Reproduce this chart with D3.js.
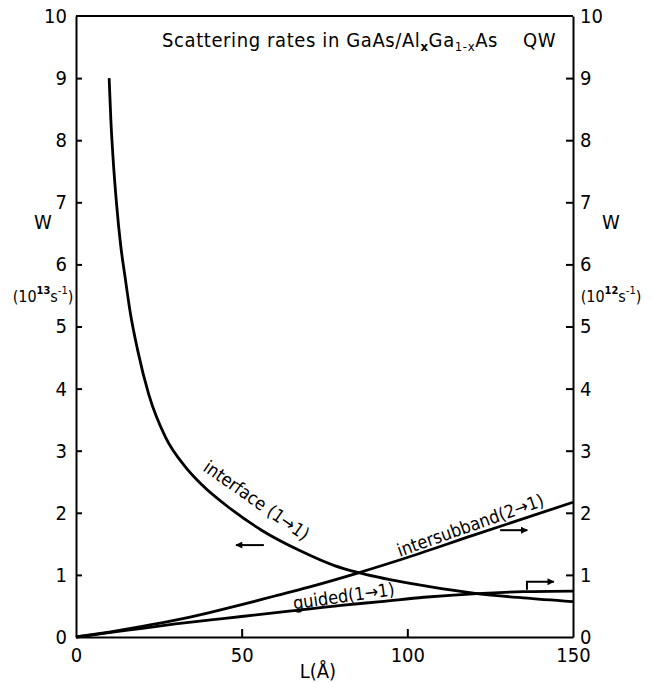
<!DOCTYPE html>
<html lang="en">
<head>
<meta charset="UTF-8">
<title>Scattering rates</title>
<script src="https://cdn.jsdelivr.net/npm/d3@7"></script>
<style>
  body { margin: 0; background: #fff; }
  svg { display: block; }
  text { font-family: "DejaVu Sans Condensed", "Liberation Sans", sans-serif; fill: #000; }
  .axis path, .axis line { stroke: #000; stroke-width: 2px; }
  .axis text { font-size: 20px; font-family: "DejaVu Sans Condensed", "Liberation Sans", sans-serif; }
  .curve { fill: none; stroke: #000; stroke-width: 2.8px; }
</style>
</head>
<body>
<svg id="chart" width="653" height="683"></svg>
<script>
// interface (1->1), left axis, 10^13 s^-1
var interfaceL = [10, 10.5, 11.2, 12.2, 13.5, 14.8, 16.3, 18.6, 22, 27, 33, 38, 47, 56, 68, 78, 85, 100, 121, 135, 150];
var interfaceW = [9.0, 8.35, 7.7, 7.0, 6.3, 5.8, 5.25, 4.62, 3.9, 3.22, 2.74, 2.45, 2.05, 1.72, 1.38, 1.15, 1.04, 0.87, 0.70, 0.63, 0.57];
// intersubband (2->1), right axis, 10^12 s^-1
var interL = [0, 10, 20, 30, 40, 50, 60, 70, 85, 100, 120, 150];
var interW = [0, 0.08, 0.17, 0.27, 0.39, 0.52, 0.66, 0.80, 1.03, 1.28, 1.64, 2.17];
// guided (1->1), right axis
var guidedL = [0, 10, 20, 30, 40, 50, 65, 80, 92, 105, 121, 135, 150];
var guidedW = [0, 0.07, 0.14, 0.21, 0.27, 0.33, 0.42, 0.51, 0.57, 0.64, 0.70, 0.73, 0.74];

var xTicks = [0, 50, 100, 150];
var yTicks = [0, 1, 2, 3, 4, 5, 6, 7, 8, 9, 10];

var svg = d3.select("#chart");
var plotL = 76, plotR = 573, plotT = 16, plotB = 637;

var x = d3.scaleLinear().domain([0, 150]).range([plotL, plotR]);
var y = d3.scaleLinear().domain([0, 10]).range([plotB, plotT]);

// frame top
svg.append("line").attr("x1", plotL).attr("x2", plotR).attr("y1", plotT).attr("y2", plotT)
  .attr("stroke", "#000").attr("stroke-width", 2);

svg.append("g").attr("class", "axis")
  .attr("transform", "translate(0," + plotB + ")")
  .call(d3.axisBottom(x).tickValues(xTicks).tickSizeInner(-8).tickSizeOuter(0).tickPadding(11));

svg.append("g").attr("class", "axis")
  .attr("transform", "translate(" + plotL + ",0)")
  .call(d3.axisLeft(y).tickValues(yTicks).tickSizeInner(-6).tickSizeOuter(0).tickPadding(9));

svg.append("g").attr("class", "axis")
  .attr("transform", "translate(" + plotR + ",0)")
  .call(d3.axisRight(y).tickValues(yTicks).tickSizeInner(-7).tickSizeOuter(0).tickPadding(7));

// ticks at the frame corners would double the frame, drop them
svg.selectAll(".axis .tick line").filter(function(d) { return d === 0 || d === 10 || d === 150; }).remove();

var line = d3.line().x(function(d) { return x(d[0]); }).y(function(d) { return y(d[1]); })
  .curve(d3.curveMonotoneX);

svg.append("path").attr("class", "curve").attr("d", line(d3.zip(interfaceL, interfaceW)));
svg.append("path").attr("class", "curve").attr("d", line(d3.zip(interL, interW)));
svg.append("path").attr("class", "curve").attr("d", line(d3.zip(guidedL, guidedW)));

// title
var title = svg.append("text").attr("x", 162).attr("y", 47).attr("font-size", 20)
  .attr("letter-spacing", 0.6);
title.append("tspan").text("Scattering rates in GaAs/Al");
title.append("tspan").attr("font-size", 13).attr("dy", 4).attr("font-weight", "bold").text("x");
title.append("tspan").attr("dy", -4).text("Ga");
title.append("tspan").attr("font-size", 13).attr("dy", 4).text("1-x");
title.append("tspan").attr("dy", -4).text("As");
title.append("tspan").attr("x", 523).text("QW");

// axis titles
function unitLabel(xPos, exp) {
  svg.append("text").attr("x", xPos).attr("y", 229).attr("font-size", 20).attr("text-anchor", "middle").text("W");
  var t = svg.append("text").attr("x", xPos).attr("y", 302).attr("font-size", 16).attr("text-anchor", "middle");
  t.append("tspan").text("(10");
  t.append("tspan").attr("font-size", 11).attr("dy", -8).attr("font-weight", "bold").text(exp);
  t.append("tspan").attr("dy", 8).text("s");
  t.append("tspan").attr("font-size", 11).attr("dy", -8).text("-1");
  t.append("tspan").attr("dy", 8).text(")");
}
unitLabel(43, "13");
unitLabel(611, "12");

svg.append("text").attr("x", x(73)).attr("y", 678).attr("font-size", 20)
  .attr("text-anchor", "middle").text("L(\u00c5)");

// curve labels
var labels = [
  {text: "interface (1\u21921)", L: 54.5, W: 2.2, angle: 35},
  {text: "intersubband(2\u21921)", L: 119, W: 1.8, angle: -19.5},
  {text: "guided(1\u21921)", L: 80.8, W: 0.66, angle: -8}
];
labels.forEach(function(d) {
  svg.append("text")
    .attr("transform", "translate(" + x(d.L) + "," + y(d.W) + ") rotate(" + d.angle + ")")
    .attr("text-anchor", "middle").attr("dy", "0.35em").attr("font-size", 18).text(d.text);
});

// arrows pointing to the axis each curve uses
svg.append("defs").append("marker").attr("id", "head")
  .attr("viewBox", "0 0 10 10").attr("refX", 9).attr("refY", 5)
  .attr("markerWidth", 9).attr("markerHeight", 7).attr("markerUnits", "userSpaceOnUse")
  .attr("orient", "auto")
  .append("path").attr("d", "M0,0L10,5L0,10Z").attr("fill", "#000");

var arrows = [
  [[56.7, 1.48], [48.3, 1.48]],
  [[128, 1.72], [136.2, 1.72]],
  [[136.1, 0.76], [136.1, 0.89], [144.2, 0.89]]
];
arrows.forEach(function(a) {
  svg.append("path")
    .attr("d", d3.line().x(function(d) { return x(d[0]); }).y(function(d) { return y(d[1]); })(a))
    .attr("fill", "none").attr("stroke", "#000").attr("stroke-width", 2)
    .attr("marker-end", "url(#head)");
});
</script>
</body>
</html>
